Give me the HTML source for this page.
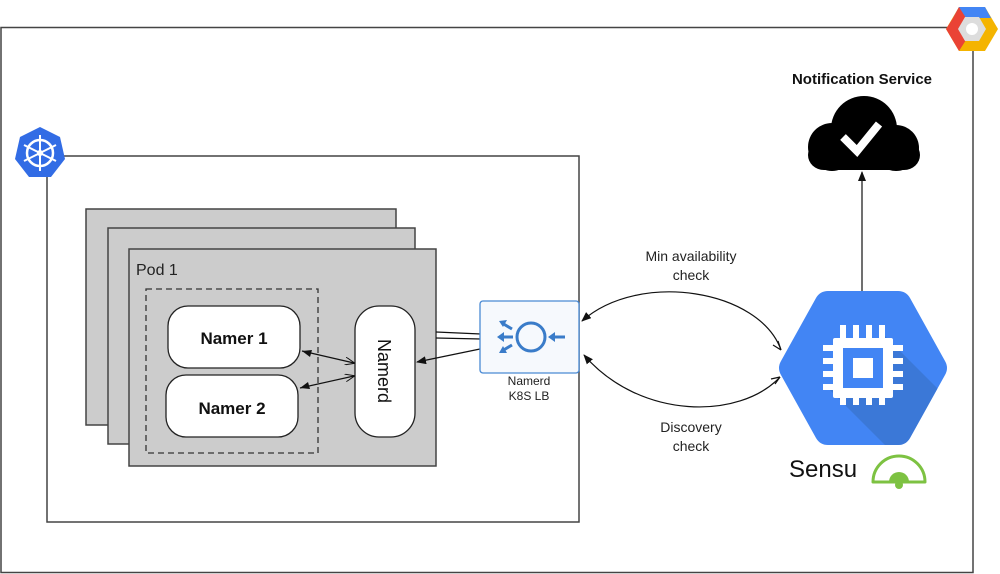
<!DOCTYPE html>
<html><head><meta charset="utf-8"><style>
html,body{margin:0;padding:0;background:#fff;}
svg{display:block;font-family:"Liberation Sans",Arial,sans-serif;}
</style></head><body>
<svg width="1000" height="574" viewBox="0 0 1000 574" xmlns="http://www.w3.org/2000/svg">
<defs>
<marker id="f" markerWidth="10" markerHeight="8" refX="9" refY="4" orient="auto" markerUnits="userSpaceOnUse"><path d="M0,0 L10,4 L0,8 z" fill="#111"/></marker>
<marker id="o" markerWidth="10" markerHeight="8" refX="9" refY="4" orient="auto" markerUnits="userSpaceOnUse"><path d="M0,0 L10,4 L0,8" fill="none" stroke="#111" stroke-width="1"/></marker>
<clipPath id="hx"><path d="M828,291 L898,291 Q906,291 910,298 L945,361 Q949,368 945,375 L910,438 Q906,445 898,445 L828,445 Q820,445 816,438 L781,375 Q777,368 781,361 L816,298 Q820,291 828,291 z"/></clipPath>
</defs>
<rect x="1" y="27.5" width="972" height="545" fill="none" stroke="#444" stroke-width="1.5"/>
<g transform="translate(972,29)">
<polygon points="-13,-22 13,-22 26,0 13,22 -13,22 -26,0" fill="#f4b400"/>
<polygon points="-13,-22 13,-22 19,-11 -19,-11" fill="#4285f4"/>
<polygon points="-13,-22 -19,-11 -26,0 -13,22 -6,11 -13,0 -6,-11" fill="#ea4335"/>
<polygon points="-7,-12 7,-12 14,0 7,12 -7,12 -14,0" fill="#ddd"/>
<circle r="6" fill="#fff"/>
</g>
<rect x="47" y="156" width="532" height="366" fill="none" stroke="#444" stroke-width="1.5"/>
<g transform="translate(40,153)">
<polygon points="0,-26 20,-16 25,6 11,24 -11,24 -25,6 -20,-16" fill="#326ce5"/>
<circle r="13" fill="none" stroke="#fff" stroke-width="2.5"/>
<circle r="3" fill="#fff"/>
<g stroke="#fff" stroke-width="2">
<line x1="0" y1="-18" x2="0" y2="18"/><line x1="-16" y1="-8" x2="16" y2="8"/><line x1="-16" y1="8" x2="16" y2="-8"/>
</g>
</g>
<rect x="86" y="209" width="310" height="216" fill="#cccccc" stroke="#444" stroke-width="1.5"/>
<rect x="108" y="228" width="307" height="216" fill="#cccccc" stroke="#444" stroke-width="1.5"/>
<rect x="129" y="249" width="307" height="217" fill="#cccccc" stroke="#444" stroke-width="1.5"/>
<text x="136" y="275" font-size="16" fill="#222">Pod 1</text>
<rect x="146" y="289" width="172" height="164" fill="none" stroke="#333" stroke-width="1.3" stroke-dasharray="6,4"/>
<rect x="168" y="306" width="132" height="62" rx="20" fill="#fff" stroke="#222" stroke-width="1.3"/>
<text x="234" y="344" font-size="17" font-weight="bold" text-anchor="middle" fill="#111">Namer 1</text>
<rect x="166" y="375" width="132" height="62" rx="20" fill="#fff" stroke="#222" stroke-width="1.3"/>
<text x="232" y="414" font-size="17" font-weight="bold" text-anchor="middle" fill="#111">Namer 2</text>
<rect x="355" y="306" width="60" height="131" rx="24" fill="#fff" stroke="#222" stroke-width="1.3"/>
<text transform="translate(378,371) rotate(90)" font-size="18" text-anchor="middle" fill="#111">Namerd</text>
<line x1="302" y1="351" x2="354" y2="363" stroke="#111" stroke-width="1.2" marker-end="url(#o)"/>
<path d="M302,351 l10,-1 l-2,7 z" fill="#111"/>
<line x1="300" y1="388" x2="354" y2="376" stroke="#111" stroke-width="1.2" marker-end="url(#o)"/>
<path d="M300,388 l8,-6 l2,7 z" fill="#111"/>
<line x1="436" y1="332" x2="481" y2="334" stroke="#111" stroke-width="1.2"/>
<line x1="436" y1="338" x2="481" y2="339" stroke="#111" stroke-width="1.2"/>
<line x1="480" y1="349" x2="417" y2="362" stroke="#111" stroke-width="1.2" marker-end="url(#f)"/>
<rect x="480" y="301" width="99" height="72" rx="3" fill="#f6f9fd" stroke="#4a8ad4" stroke-width="1.3"/>
<g stroke="#3a7cc9" stroke-width="3" fill="none">
<circle cx="531" cy="337" r="14"/>
<line x1="565" y1="337" x2="552" y2="337"/>
<line x1="513" y1="337" x2="500" y2="337"/>
<line x1="512" y1="329" x2="502" y2="323"/>
<line x1="512" y1="345" x2="502" y2="351"/>
</g>
<g fill="#3a7cc9">
<path d="M548,337 l7,-5 v10 z"/><path d="M497,337 l7,-5 v10 z"/>
<path d="M499,321 l8,-1 l-4,7 z"/><path d="M499,353 l4,-7 l4,7 z"/>
</g>
<text x="529" y="385" font-size="12" text-anchor="middle" fill="#222">Namerd</text>
<text x="529" y="400" font-size="12" text-anchor="middle" fill="#222">K8S LB</text>
<path d="M781,350 C760,290 640,270 582,321" fill="none" stroke="#111" stroke-width="1.2" marker-end="url(#f)"/>
<path d="M781,350 l-3,-9 M781,350 l-8,-5" stroke="#111" stroke-width="1.2"/>
<path d="M780,377 C740,420 640,420 584,355" fill="none" stroke="#111" stroke-width="1.2" marker-end="url(#f)"/>
<path d="M780,377 l-9,2 M780,377 l-5,7" stroke="#111" stroke-width="1.2"/>
<text x="691" y="261" font-size="14" text-anchor="middle" fill="#222">Min availability</text>
<text x="691" y="280" font-size="14" text-anchor="middle" fill="#222">check</text>
<text x="691" y="432" font-size="14" text-anchor="middle" fill="#222">Discovery</text>
<text x="691" y="451" font-size="14" text-anchor="middle" fill="#222">check</text>
<text x="862" y="84" font-size="15" font-weight="bold" text-anchor="middle" fill="#111">Notification Service</text>
<g fill="#000">
<circle cx="864" cy="129" r="33"/>
<circle cx="832" cy="147" r="24"/>
<circle cx="896" cy="148" r="23"/>
<rect x="808" y="140" width="112" height="30" rx="16"/>
</g>
<path d="M843,137 l14,14 l22,-27" fill="none" stroke="#fff" stroke-width="8"/>
<line x1="862" y1="291" x2="862" y2="172" stroke="#111" stroke-width="1.2" marker-end="url(#f)"/>
<path d="M828,291 L898,291 Q906,291 910,298 L945,361 Q949,368 945,375 L910,438 Q906,445 898,445 L828,445 Q820,445 816,438 L781,375 Q777,368 781,361 L816,298 Q820,291 828,291 z" fill="#4285f4"/>
<path d="M885,336 L960,411 L900,460 L830,390 z" fill="#3a74d0" opacity="0.8" clip-path="url(#hx)"/>
<g fill="#fff">
<rect x="833" y="338" width="60" height="60" rx="2"/>
<rect x="840" y="325" width="6" height="80"/><rect x="853" y="325" width="6" height="80"/><rect x="866" y="325" width="6" height="80"/><rect x="879" y="325" width="6" height="80"/>
<rect x="823" y="345" width="80" height="6"/><rect x="823" y="358" width="80" height="6"/><rect x="823" y="371" width="80" height="6"/><rect x="823" y="384" width="80" height="6"/>
</g>
<rect x="843" y="348" width="40" height="40" fill="#4285f4"/>
<rect x="853" y="358" width="20" height="20" fill="#fff"/>
<text x="789" y="477" font-size="24" fill="#111">Sensu</text>
<path d="M873,482 A26,26 0 0 1 925,482 z" fill="none" stroke="#7dc242" stroke-width="3" stroke-linejoin="round"/>
<path d="M889,482 A10,10 0 0 1 909,482 z" fill="#7dc242"/>
<circle cx="899" cy="485" r="4" fill="#7dc242"/>
</svg>
</body></html>
